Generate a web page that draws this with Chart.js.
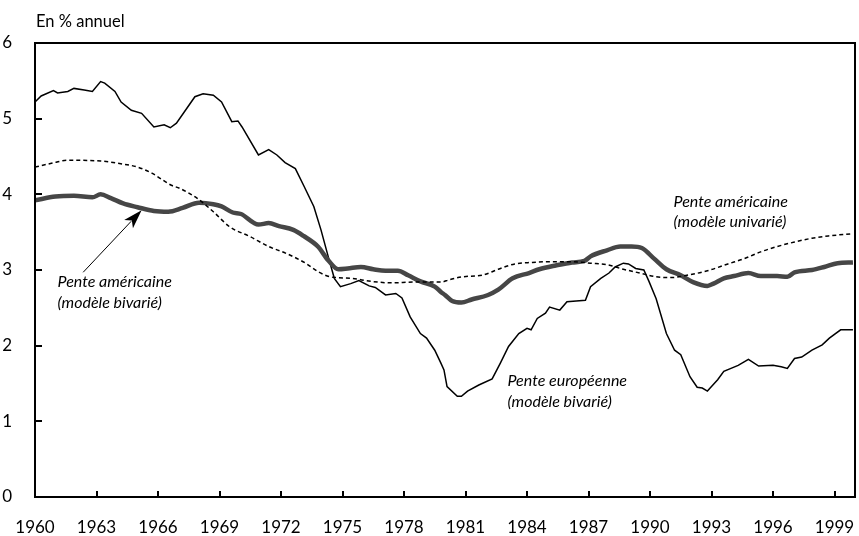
<!DOCTYPE html>
<html>
<head>
<meta charset="utf-8">
<script src="https://cdn.jsdelivr.net/npm/chart.js@4"></script>
<style>
  body { margin: 0; background: #fff; }
  #wrap { position: relative; width: 859px; height: 536px; }
  #unit { position: absolute; left: 36px; top: 11px; font: 16.5px Lato, sans-serif; color: #000; }
</style>
</head>
<body>
<div id="wrap">
  <canvas id="chart" width="859" height="536"></canvas>
  <div id="unit">En % annuel</div>
</div>
<script>
// ticks
const xTickYears = [1960, 1963, 1966, 1969, 1972, 1975, 1978, 1981, 1984, 1987, 1990, 1993, 1996, 1999];
const yTickValues = [0, 1, 2, 3, 4, 5, 6];

// Pente européenne (modèle bivarié)
const euYears = [1960.0, 1960.3, 1960.9, 1961.1, 1961.6, 1961.9, 1962.4, 1962.8, 1963.2, 1963.4, 1963.9, 1964.2, 1964.7, 1965.2, 1965.8, 1966.3, 1966.6, 1966.9, 1967.8, 1968.2, 1968.7, 1969.1, 1969.6, 1969.9, 1970.1, 1970.9, 1971.4, 1971.8, 1972.2, 1972.7, 1973.1, 1973.6, 1973.95, 1974.3, 1974.6, 1974.9, 1975.4, 1975.8, 1976.3, 1976.6, 1977.1, 1977.6, 1977.9, 1978.3, 1978.8, 1979.1, 1979.5, 1979.8, 1979.95, 1980.1, 1980.6, 1980.8, 1981.1, 1981.65, 1982.3, 1982.7, 1983.1, 1983.6, 1984.0, 1984.2, 1984.5, 1984.9, 1985.1, 1985.6, 1985.95, 1986.4, 1986.85, 1987.1, 1987.6, 1988.0, 1988.3, 1988.7, 1988.95, 1989.3, 1989.7, 1989.95, 1990.3, 1990.8, 1991.2, 1991.5, 1991.95, 1992.3, 1992.55, 1992.8, 1993.0, 1993.3, 1993.6, 1993.95, 1994.3, 1994.8, 1995.3, 1996.0, 1996.4, 1996.7, 1997.05, 1997.4, 1997.9, 1998.4, 1998.75, 1999.3, 1999.9];
const euValues = [5.22, 5.30, 5.37, 5.34, 5.36, 5.40, 5.38, 5.36, 5.49, 5.47, 5.36, 5.22, 5.11, 5.07, 4.89, 4.92, 4.88, 4.94, 5.29, 5.33, 5.31, 5.22, 4.96, 4.97, 4.89, 4.52, 4.59, 4.52, 4.42, 4.34, 4.12, 3.84, 3.53, 3.18, 2.89, 2.78, 2.82, 2.86, 2.79, 2.77, 2.67, 2.69, 2.63, 2.38, 2.16, 2.10, 1.94, 1.77, 1.68, 1.46, 1.33, 1.33, 1.40, 1.48, 1.56, 1.77, 1.99, 2.16, 2.23, 2.21, 2.36, 2.43, 2.51, 2.47, 2.58, 2.59, 2.60, 2.78, 2.89, 2.96, 3.04, 3.09, 3.08, 3.02, 3.00, 2.85, 2.62, 2.16, 1.94, 1.88, 1.59, 1.45, 1.44, 1.40, 1.46, 1.55, 1.66, 1.70, 1.74, 1.82, 1.73, 1.74, 1.72, 1.70, 1.83, 1.85, 1.94, 2.01, 2.10, 2.21, 2.21];

// Pente américaine (modèle bivarié)
const usBiYears = [1960.0, 1961.0, 1961.9, 1962.8, 1963.2, 1963.7, 1964.3, 1965.0, 1965.8, 1966.5, 1967.2, 1968.0, 1968.7, 1969.1, 1969.65, 1970.05, 1970.9, 1971.4, 1971.9, 1972.6, 1973.1, 1973.8, 1974.3, 1974.8, 1975.25, 1975.9, 1976.5, 1977.1, 1977.7, 1978.2, 1978.8, 1979.5, 1979.8, 1980.0, 1980.35, 1980.8, 1981.3, 1982.1, 1982.6, 1983.3, 1984.1, 1984.6, 1985.4, 1986.2, 1986.8, 1987.1, 1987.9, 1988.55, 1989.1, 1989.6, 1990.2, 1990.8, 1991.5, 1992.1, 1992.8, 1993.1, 1993.6, 1994.1, 1994.8, 1995.4, 1996.2, 1996.7, 1997.05, 1997.9, 1998.5, 1999.15, 1999.9];
const usBiValues = [3.92, 3.97, 3.98, 3.96, 4.00, 3.95, 3.88, 3.83, 3.78, 3.77, 3.82, 3.89, 3.87, 3.84, 3.76, 3.74, 3.60, 3.62, 3.58, 3.53, 3.45, 3.31, 3.13, 3.01, 3.02, 3.04, 3.01, 2.99, 2.99, 2.93, 2.85, 2.78, 2.71, 2.67, 2.59, 2.57, 2.61, 2.67, 2.74, 2.89, 2.96, 3.01, 3.06, 3.10, 3.12, 3.18, 3.26, 3.31, 3.31, 3.29, 3.15, 3.01, 2.93, 2.84, 2.79, 2.82, 2.89, 2.92, 2.96, 2.92, 2.92, 2.91, 2.97, 3.00, 3.04, 3.09, 3.10];

// Pente américaine (modèle univarié)
const usUniYears = [1960.0, 1960.8, 1961.6, 1963.2, 1964.05, 1965.0, 1965.7, 1966.65, 1967.05, 1967.9, 1968.7, 1969.5, 1970.5, 1971.4, 1972.25, 1973.2, 1973.8, 1974.4, 1975.4, 1976.4, 1977.35, 1978.5, 1979.8, 1980.2, 1980.85, 1981.8, 1982.6, 1983.4, 1984.25, 1985.2, 1986.2, 1987.1, 1987.9, 1988.7, 1989.5, 1990.3, 1991.0, 1991.8, 1992.8, 1993.8, 1994.6, 1995.4, 1996.2, 1997.05, 1997.9, 1998.7, 1999.9];
const usUniValues = [4.36, 4.41, 4.45, 4.44, 4.41, 4.36, 4.28, 4.12, 4.08, 3.95, 3.77, 3.57, 3.44, 3.31, 3.22, 3.09, 2.98, 2.91, 2.89, 2.85, 2.83, 2.84, 2.84, 2.87, 2.91, 2.93, 3.01, 3.08, 3.10, 3.11, 3.11, 3.09, 3.07, 3.01, 2.96, 2.91, 2.90, 2.93, 2.99, 3.08, 3.15, 3.24, 3.31, 3.37, 3.42, 3.45, 3.48];

// annotations (data coordinates)
const notes = [
    { text: ['Pente américaine', '(modèle univarié)'], year: 1991.15, values: [3.90, 3.63] },
    { text: ['Pente américaine', '(modèle bivarié)'], year: 1961.1, values: [2.84, 2.56] },
    { text: ['Pente européenne', '(modèle bivarié)'], year: 1983.05, values: [1.53, 1.26] }
];
const arrowFrom = { x: 1962.35, y: 2.97 };
const arrowTo = { x: 1965.2, y: 3.79 };

function toPoints(years, values) {
    return years.map((yr, i) => ({ x: yr, y: values[i] }));
}

const framePlugin = {
    id: 'frame',
    afterDraw(chart) {
        const ctx = chart.ctx;
        const area = chart.chartArea;
        const xs = chart.scales.x;
        const ys = chart.scales.y;
        ctx.save();
        ctx.strokeStyle = '#000';

        // inward tick marks
        ctx.lineWidth = 2;
        ctx.beginPath();
        xTickYears.forEach(yr => {
            const px = Math.round(xs.getPixelForValue(yr));
            ctx.moveTo(px, area.bottom);
            ctx.lineTo(px, area.bottom - 6);
        });
        yTickValues.forEach(v => {
            const py = Math.round(ys.getPixelForValue(v));
            ctx.moveTo(area.left, py);
            ctx.lineTo(area.left + 7, py);
        });
        ctx.stroke();

        // frame
        ctx.lineWidth = 2;
        ctx.strokeRect(area.left, area.top, area.right - area.left, area.bottom - area.top);

        // notes
        ctx.fillStyle = '#000';
        ctx.font = 'italic 16px Lato';
        ctx.textAlign = 'left';
        ctx.textBaseline = 'middle';
        notes.forEach(n => {
            const px = xs.getPixelForValue(n.year);
            n.text.forEach((t, i) => {
                ctx.fillText(t, px, ys.getPixelForValue(n.values[i]));
            });
        });

        // arrow
        const x0 = xs.getPixelForValue(arrowFrom.x), y0 = ys.getPixelForValue(arrowFrom.y);
        const x1 = xs.getPixelForValue(arrowTo.x), y1 = ys.getPixelForValue(arrowTo.y);
        const ang = Math.atan2(y1 - y0, x1 - x0);
        const headLen = 19, headW = 6;
        ctx.lineWidth = 1;
        ctx.beginPath();
        ctx.moveTo(x0, y0);
        ctx.lineTo(x1 - Math.cos(ang) * headLen * 0.8, y1 - Math.sin(ang) * headLen * 0.8);
        ctx.stroke();
        ctx.beginPath();
        ctx.moveTo(x1, y1);
        ctx.lineTo(x1 - Math.cos(ang) * headLen - Math.sin(ang) * headW, y1 - Math.sin(ang) * headLen + Math.cos(ang) * headW);
        ctx.lineTo(x1 - Math.cos(ang) * headLen * 0.75, y1 - Math.sin(ang) * headLen * 0.75);
        ctx.lineTo(x1 - Math.cos(ang) * headLen + Math.sin(ang) * headW, y1 - Math.sin(ang) * headLen - Math.cos(ang) * headW);
        ctx.closePath();
        ctx.fill();
        ctx.restore();
    }
};

Chart.defaults.font.family = 'Lato, sans-serif';
Chart.defaults.color = '#000';

new Chart(document.getElementById('chart').getContext('2d'), {
    type: 'line',
    data: {
        datasets: [
            {
                label: 'Pente américaine (modèle univarié)',
                data: toPoints(usUniYears, usUniValues),
                borderColor: '#000',
                borderWidth: 1.5,
                borderDash: [4, 3],
                pointRadius: 0,
                cubicInterpolationMode: 'monotone'
            },
            {
                label: 'Pente américaine (modèle bivarié)',
                data: toPoints(usBiYears, usBiValues),
                borderColor: '#464646',
                borderWidth: 4.5,
                pointRadius: 0,
                cubicInterpolationMode: 'monotone'
            },
            {
                label: 'Pente européenne (modèle bivarié)',
                data: toPoints(euYears, euValues),
                borderColor: '#000',
                borderWidth: 1.5,
                pointRadius: 0,
                tension: 0
            }
        ]
    },
    options: {
        responsive: false,
        animation: false,
        layout: { padding: { top: 43, right: 4, left: 0, bottom: 0 } },
        plugins: {
            legend: { display: false },
            tooltip: { enabled: false }
        },
        scales: {
            x: {
                type: 'linear',
                min: 1960,
                max: 2000,
                grid: { display: false },
                border: { display: false },
                afterBuildTicks: scale => { scale.ticks = xTickYears.map(v => ({ value: v })); },
                afterFit: scale => {
                    scale.height = 39;
                    scale.paddingLeft = 0;
                    scale.paddingRight = 0;
                },
                ticks: {
                    font: { size: 17 },
                    padding: 12,
                    maxRotation: 0,
                    autoSkip: false,
                    callback: v => String(v)
                }
            },
            y: {
                min: 0,
                max: 6,
                grid: { display: false },
                border: { display: false },
                afterBuildTicks: scale => { scale.ticks = yTickValues.map(v => ({ value: v })); },
                afterFit: scale => {
                    scale.width = 35;
                    scale.paddingTop = 0;
                    scale.paddingBottom = 0;
                },
                ticks: {
                    font: { size: 17 },
                    padding: 15,
                    callback: v => String(v)
                }
            }
        }
    },
    plugins: [framePlugin]
});
</script>
</body>
</html>
